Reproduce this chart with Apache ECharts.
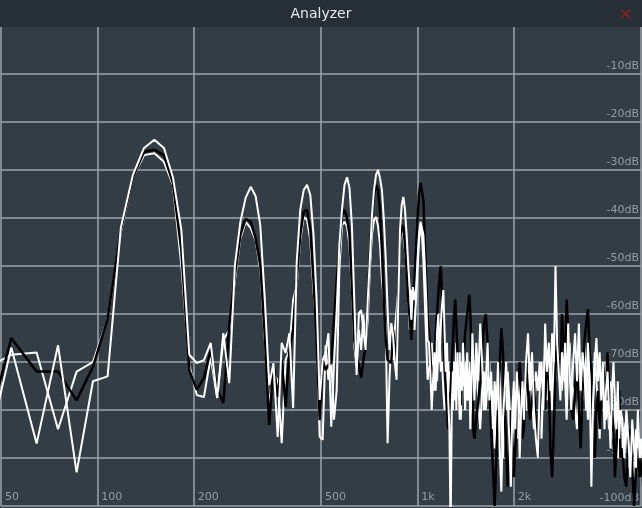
<!DOCTYPE html>
<html><head><meta charset="utf-8">
<script src="https://cdn.jsdelivr.net/npm/echarts@6/dist/echarts.min.js"></script>
<style>html,body{margin:0;padding:0;background:#333d45;}#chart{width:642px;height:508px;}</style>
</head><body><div id="chart"></div>
<script>
// FFT bin width (44.1 kHz, 4096-point FFT)
const BIN_HZ = 44100 / 4096;

// FFT bin indices that are plotted (frequency = bin * BIN_HZ, in Hz)
const bins = [
  4,5,6,7,8,9,10,11,12,13,14,15,16,17,18,19,20,21,22,23,24,25,26,27,28,29,30,31,32,33,34,35,36,37,38,39,40,
  41,42,43,44,45,46,47,48,49,50,51,52,53,54,55,56,57,58,59,60,61,62,63,64,65,66,67,68,69,70,71,72,73,74,75,
  76,77,78,79,80,81,82,83,84,85,86,87,88,89,90,91,92,93,94,95,96,97,98,99,100,
  101,102,103,104,105,106,107,108,109,110,111,112,113,114,115,116,117,118,119,120,
  121,122,123,124,125,126,127,128,129,130,131,132,133,134,135,136,137,138,139,140,
  142,144,146,148,150,152,154,156,158,160,162,164,166,168,170,172,174,176,178,180,
  182,184,186,188,190,192,194,196,198,200,
  203,206,209,212,215,218,221,224,227,230,233,236,239,242,245,248,251,254,257,260,
  263,266,269,272,275,278,281,
  285,289,293,297,301,305,309,313,317,321,325,329,333,337,341,345,349,353,357,361,
  365,369,373,377,381,385,389,393,397,401,
  406,412,418,424,430,436,442,448,454,460,466,472
];

// Upper white trace (dB)
const whiteUpper = [
  -95,-67,-87,-66.5,-93,-74,-73,-42,-31,-25.4,
  -23.7,-25.4,-31.5,-42.5,-68.5,-70.2,-69.6,-66,-77.5,-64,
  -74.4,-49.8,-40.8,-35.8,-33.5,-35.4,-41.5,-57,-74.8,-70.2,
  -85.6,-66,-68.1,-64,-79.6,-49.2,-38.3,-34.2,-33.1,-35.2,
  -43.5,-57.1,-77.9,-69.6,-68.1,-64,-83.5,-70.2,-59.2,-45.6,
  -38.3,-33.1,-31.5,-33.7,-41.5,-57.1,-72.7,-59.8,-59.2,-63.3,
  -67.5,-57.1,-48.7,-39.4,-34.2,-31,-30,-31.7,-34.2,-40.4,
  -48.7,-59.2,-67.5,-61.9,-64.4,-70.2,-73.7,-57.1,-42.5,-37.3,
  -35.6,-38.3,-43.5,-49.8,-55,-61.2,-54.4,-57.1,-55,-48.7,
  -43.5,-40.8,-40.4,-43.5,-49.8,-57.1,-65.4,
  -66,-72,-80,-74,-68,-76,-64,-60,-70,-62,
  -58,-55,-64,-72,-66,-78,-84,-105,-80,-72,
  -78,-70,-80,-68,-74,-82,-70,-76,-66,-72,
  -80,-74,-68,-78,-72,-84,-76,-64,-70,-78,
  -66,-74,-62,-70,-80,-74,-66,-78,-72,-84,
  -74,-80,-70,-88,-97,-82,-76,-70,-78,-86,
  -96,-80,-74,-84,-72,-78,-90,-80,-74,-82,
  -70,-64,-76,-68,-80,-86,-90,-76,-70,-80,
  -62,-72,-66,-76,-64,-70,-50,-66,-72,-78,
  -68,-74,-66,-78,-62,-72,-80,
  -70,-64,-74,-62,-76,-68,-72,-80,-66,-74,
  -96,-78,-70,-65,-74,-68,-78,-70,-84,-76,
  -72,-80,-88,-76,-70,-78,-84,-74,-86,-80,
  -82,-90,-80,-86,-94,-82,-88,-92,-80,-90,-86,-92
];

// Black trace (dB)
const blackTrace = [
  -90,-65,-72,-72,-78,-71,-61,-42.5,-31.5,-26.2,
  -25.8,-26.9,-32.7,-46.7,-71.7,-75.8,-73.3,-67.5,-75.8,-78.5,
  -62.3,-51.9,-43.5,-40.2,-40.8,-44.2,-49.8,-64.4,-83.1,-70.2,
  -77.3,-69.6,-79.4,-67.5,-63.3,-52.9,-43.5,-38.7,-38.3,-42.5,
  -52.9,-65.4,-82.1,-69.6,-71.7,-70.6,-70.2,-61.2,-52.9,-46.7,
  -39.4,-38.3,-40,-43.5,-54,-65.4,-69,-70.6,-73.3,-69.6,
  -66.9,-57.1,-47.9,-39.4,-35.2,-33.1,-34.2,-38.3,-46.7,-57.1,
  -65.4,-69.6,-70,-70.2,-63.3,-66.5,-72.7,-55,-44.6,-41.5,
  -42.1,-45.6,-50.8,-57.1,-61.2,-65.4,-59.2,-52.9,-46.7,-40.4,
  -35.2,-32.7,-32.7,-36.2,-44.6,-52.9,-61.2,
  -64,-68,-76,-72,-70,-64,-60,-56,-52,-50,
  -58,-62,-70,-76,-80,-84,-78,-76,-70,-66,
  -60,-57,-62,-68,-75,-78,-79,-74,-72,-68,
  -64,-62,-60,-58,-56,-60,-68,-76,-84,-86,
  -82,-78,-74,-68,-62,-60,-66,-74,-84,-92,
  -100,-90,-80,-70,-63,-68,-80,-88,-96,-90,
  -80,-86,-94,-88,-80,-74,-70,-76,-86,-84,
  -70,-76,-82,-78,-74,-84,-90,-80,-72,-78,
  -80,-66,-74,-88,-94,-84,-72,-64,-70,-76,
  -60,-66,-70,-57,-64,-72,-80,
  -82,-76,-70,-80,-88,-76,-66,-62,-59,-68,
  -72,-82,-90,-80,-76,-84,-78,-70,-74,-78,
  -68,-76,-86,-80,-84,-94,-88,-82,-76,-90,
  -88,-94,-96,-86,-84,-92,-100,-92,-88,-94,-90,-96
];

// Lower white trace (dB)
const whiteLower = [
  -72,-68.5,-68,-84,-72,-70,-61,-43,-31.5,-26.9,
  -26.5,-28.3,-33.1,-49.8,-70.6,-76.9,-77.3,-69,-77.5,-65.4,
  -63.3,-52.9,-44.2,-40.8,-42.1,-44.6,-50.8,-65.4,-79,-72.7,
  -73.7,-86.9,-69.6,-67.5,-57.1,-54,-44.6,-39.8,-40.4,-44.6,
  -55,-63.3,-85.6,-86.2,-66.5,-73.7,-69.6,-82,-75.8,-50.8,
  -41.5,-40.8,-41.7,-45.6,-55,-66.5,-71,-63.3,-67.5,-60.2,
  -66.5,-61.2,-50.8,-43.5,-40.4,-39.8,-41.7,-45.6,-52.9,-57.1,
  -63.3,-86.9,-73.7,-65.4,-69.6,-63.3,-63.3,-55,-45.6,-42.5,
  -43.5,-46.7,-50.4,-56,-63.3,-55,-57.1,-63.3,-57.1,-50.8,
  -44.6,-42.1,-43.5,-48.7,-57.1,-65.4,-73.7,
  -74,-70,-66,-72,-76,-70,-74,-68,-64,-72,
  -70,-76,-80,-72,-74,-70,-78,-72,-76,-80,
  -70,-74,-66,-76,-70,-68,-82,-74,-70,-75,
  -72,-70,-78,-74,-72,-70,-80,-76,-72,-76,
  -70,-78,-84,-76,-72,-80,-74,-70,-82,-76,
  -88,-78,-74,-72,-84,-90,-76,-80,-72,-78,
  -84,-92,-80,-78,-86,-74,-80,-82,-76,-78,
  -80,-72,-70,-78,-84,-72,-76,-70,-86,-74,
  -68,-78,-66,-72,-80,-68,-74,-64,-70,-72,
  -76,-68,-74,-82,-70,-66,-74,
  -76,-80,-84,-72,-70,-78,-66,-74,-82,-70,
  -76,-78,-68,-74,-80,-86,-72,-74,-70,-82,
  -78,-84,-74,-80,-86,-78,-82,-90,-84,-82,
  -88,-84,-82,-92,-86,-90,-96,-84,-90,-92,-86,-90
];

// Axis definitions
const freqMin = 50, freqMax = 5000;
const freqGrid = [50, 100, 200, 500, 1000, 2000, 5000];
const freqLabelVals = [50, 100, 200, 500, 1000, 2000];
const dbMin = -100, dbMax = 0, dbStep = 10;

const lg = Math.log10;
function fmtHz(f) { return f >= 1000 ? (f / 1000) + 'k' : String(f); }
function toData(vals) { return bins.map((b, i) => [lg(b * BIN_HZ), vals[i]]); }

const chart = echarts.init(document.getElementById('chart'), null, {renderer: 'canvas'});
const FONT = 'DejaVu Sans';
const gridLine = {color: '#9ea5aa', width: 1.5};
const labelColor = '#939ca3';

chart.setOption({
  animation: false,
  backgroundColor: '#333d45',
  title: {
    text: 'Analyzer', left: 'center', top: 2, z: 200,
    textStyle: {color: '#e8eaeb', fontSize: 14, fontWeight: 'normal', fontFamily: FONT}
  },
  grid: {left: 1, right: 1, top: 26, bottom: 2, containLabel: false, outerBoundsMode: 'none'},
  xAxis: {
    type: 'value', min: lg(freqMin), max: lg(freqMax),
    axisLine: {show: false},
    axisTick: {show: false, customValues: freqGrid.map(lg)},
    splitLine: {show: true, lineStyle: gridLine},
    axisLabel: {
      inside: true, customValues: freqLabelVals.map(lg), align: 'left', margin: 3,
      padding: [0, 0, 0, 4], color: labelColor, fontSize: 11, fontFamily: FONT,
      formatter: v => fmtHz(Math.round(Math.pow(10, v)))
    }
  },
  yAxis: {
    type: 'value', min: dbMin, max: dbMax, interval: dbStep, position: 'right',
    axisLine: {show: false}, axisTick: {show: false},
    splitLine: {show: true, lineStyle: gridLine},
    axisLabel: {
      inside: true, margin: 2, verticalAlign: 'bottom', padding: [0, 0, 2, 0],
      color: labelColor, fontSize: 11, fontFamily: FONT,
      formatter: v => (v === 0 ? '' : v + 'dB')
    }
  },
  graphic: [
    {type: 'rect', x: 0, y: 0, shape: {width: 642, height: 27}, style: {fill: '#262f36'}, z: 100, silent: true},
    {type: 'line', x: 0, y: 0, shape: {x1: 621, y1: 9.5, x2: 630.5, y2: 18.5}, style: {stroke: '#9a1d1d', lineWidth: 1.3}, z: 101, silent: true},
    {type: 'line', x: 0, y: 0, shape: {x1: 630.5, y1: 9.5, x2: 621, y2: 18.5}, style: {stroke: '#9a1d1d', lineWidth: 1.3}, z: 101, silent: true}
  ],
  series: [
    {type: 'line', name: 'lower', data: toData(whiteLower), symbol: 'none', z: 2,
     lineStyle: {color: '#ffffff', width: 2}, clip: true},
    {type: 'line', name: 'black', data: toData(blackTrace), symbol: 'none', z: 3,
     lineStyle: {color: '#000000', width: 2.5}, clip: true},
    {type: 'line', name: 'upper', data: toData(whiteUpper), symbol: 'none', z: 4,
     lineStyle: {color: '#ffffff', width: 2}, clip: true}
  ]
});
</script></body></html>
